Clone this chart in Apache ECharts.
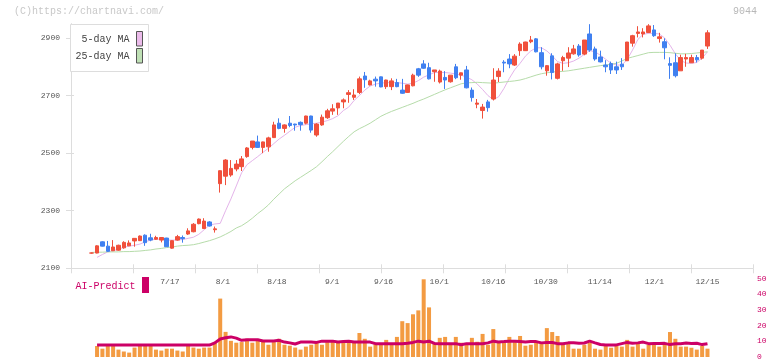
<!DOCTYPE html>
<html><head><meta charset="utf-8">
<script src="https://cdn.jsdelivr.net/npm/echarts@6/dist/echarts.min.js"></script>
<style>html,body{margin:0;padding:0;background:#fff}#c{width:772px;height:361px}</style>
</head><body><div id="c"></div>
<script>
// ---- data ----
const open = [2153,2153,2192,2177,2161,2163,2171,2178,2195,2196,2215,2206,2201,2198,2205,2170,2198,2207,2219,2227,
2255,2238,2261,2234,2394,2420,2424,2445,2453,2488,2520,2539,2520,2522,2554,2604,2586,2604,2601,2607,
2604,2629,2563,2598,2623,2646,2657,2678,2704,2694,2711,2768,2737,2757,2765,2731,2731,2745,2719,2711,
2734,2793,2810,2797,2783,2747,2763,2748,2800,2771,2789,2719,2670,2648,2678,2688,2766,2816,2827,2806,
2856,2856,2887,2897,2849,2786,2838,2760,2821,2830,2845,2872,2844,2914,2862,2834,2806,2811,2800,2809,
2821,2882,2916,2914,2919,2928,2898,2887,2811,2814,2786,2827,2814,2832,2830,2872];
const close = [2153,2178,2177,2159,2174,2180,2190,2188,2204,2212,2189,2198,2207,2207,2175,2196,2210,2203,2230,2253,
2271,2264,2247,2237,2439,2476,2447,2462,2480,2518,2542,2520,2539,2553,2598,2586,2598,2596,2598,2599,
2629,2580,2601,2625,2647,2654,2674,2685,2710,2702,2758,2755,2751,2751,2730,2754,2751,2731,2708,2737,
2771,2771,2795,2758,2789,2785,2754,2771,2762,2779,2727,2693,2674,2660,2658,2754,2785,2813,2810,2837,
2879,2886,2893,2852,2800,2804,2780,2810,2832,2848,2862,2841,2893,2858,2827,2817,2800,2789,2789,2800,
2886,2908,2921,2921,2942,2908,2904,2866,2805,2769,2832,2832,2832,2824,2858,2918];
const low = [2151,2152,2176,2157,2160,2161,2168,2177,2175,2195,2178,2194,2199,2190,2174,2168,2196,2189,2216,2225,
2253,2237,2245,2224,2363,2389,2418,2437,2438,2484,2513,2518,2500,2505,2553,2583,2571,2590,2578,2578,
2600,2571,2557,2595,2619,2633,2633,2656,2675,2685,2705,2727,2735,2731,2729,2723,2719,2729,2706,2709,
2732,2765,2793,2756,2748,2742,2723,2745,2757,2755,2725,2679,2656,2620,2644,2683,2747,2781,2795,2803,
2838,2855,2882,2850,2791,2769,2756,2756,2786,2799,2842,2835,2840,2852,2821,2815,2781,2775,2775,2789,
2820,2870,2902,2902,2917,2904,2884,2826,2758,2763,2786,2800,2813,2815,2825,2862];
const high = [2155,2180,2194,2195,2198,2182,2194,2197,2205,2214,2218,2220,2213,2208,2206,2197,2216,2214,2239,2257,
2273,2274,2264,2245,2440,2479,2476,2476,2490,2521,2542,2561,2540,2557,2609,2621,2600,2629,2602,2610,
2630,2630,2604,2634,2654,2670,2674,2690,2719,2722,2766,2782,2755,2766,2766,2755,2760,2758,2758,2738,
2776,2796,2823,2814,2789,2790,2785,2771,2810,2780,2803,2728,2688,2671,2685,2795,2795,2823,2844,2844,
2885,2887,2907,2900,2868,2806,2847,2814,2838,2868,2876,2879,2893,2948,2870,2856,2823,2818,2818,2830,
2886,2911,2941,2934,2948,2945,2918,2899,2833,2847,2842,2845,2842,2841,2858,2927];
const ma5 = [null,2138,2148,2157,2161,2166,2173,2177,2180,2184,2192,2198,2201,2201,2198,2198,2198,2200,2204,2208,
2218,2234,2250,2254,2256,2300,2341,2386,2432,2460,2474,2488,2503,2517,2533,2549,2562,2576,2590,2596,
2599,2602,2604,2608,2613,2620,2630,2648,2660,2683,2700,2719,2733,2740,2743,2745,2745,2745,2743,2740,
2743,2752,2764,2772,2780,2780,2780,2778,2775,2771,2764,2755,2740,2721,2700,2686,2696,2725,2760,2790,
2812,2837,2855,2866,2866,2855,2838,2818,2812,2814,2820,2830,2843,2856,2852,2840,2826,2812,2806,2806,
2825,2858,2895,2913,2916,2916,2914,2900,2875,2845,2822,2813,2812,2815,2830,2852];
const ma25 = [2155,2156,2156,2157,2157,2157,2158,2158,2159,2160,2162,2164,2167,2169,2172,2174,2177,2179,2180,2182,
2186,2191,2196,2202,2209,2218,2228,2240,2248,2260,2274,2290,2304,2320,2340,2358,2376,2390,2404,2416,
2428,2440,2453,2470,2488,2505,2523,2541,2558,2574,2585,2594,2604,2616,2628,2637,2645,2652,2659,2666,
2673,2681,2688,2696,2704,2712,2720,2727,2734,2741,2744,2745,2746,2745,2744,2743,2745,2747,2749,2751,
2754,2759,2765,2771,2776,2779,2782,2783,2784,2786,2789,2792,2795,2798,2801,2804,2806,2809,2812,2820,
2829,2834,2839,2844,2849,2850,2850,2850,2849,2847,2845,2845,2846,2848,2850,2852];
const volume = [null,7.0,5.3,7.0,7.0,4.7,3.5,2.8,6.0,7.0,7.8,7.0,4.7,4.1,5.3,5.3,4.1,3.5,7.0,6.0,
5.3,6.0,6.0,9.0,37.2,16.0,10.3,9.1,9.5,11.6,9.1,10.3,10.3,7.8,9.5,11.6,7.8,7.2,6.0,4.7,
6.6,7.8,8.9,7.8,9.5,10.3,9.5,9.5,10.3,9.1,15.3,11.6,6.6,8.2,8.2,10.9,8.2,12.8,22.8,21.6,
27.2,29.7,49.5,31.6,9.1,12.2,12.8,8.2,12.8,9.1,8.2,12.2,9.7,14.7,7.8,17.8,9.5,9.5,12.8,9.5,
13.4,7.2,7.8,10.3,9.5,18.4,15.9,13.4,7.8,9.1,5.3,5.3,7.8,9.1,5.3,4.7,7.2,5.9,7.0,6.6,
10.9,6.6,9.1,5.3,7.8,7.8,6.6,8.9,15.9,11.6,6.6,6.6,5.9,4.7,7.0,5.3];
const aiPredict = [null,7.6,7.6,7.6,7.6,7.6,7.6,7.6,7.6,7.6,7.6,7.6,7.6,7.6,7.6,7.6,7.6,7.6,7.6,7.6,
7.6,7.6,7.6,9.0,11.5,12.3,12.8,12.0,10.6,11.0,11.0,11.0,10.2,10.2,10.2,10.6,9.5,9.0,8.3,9.5,
9.5,9.5,9.3,10.1,10.1,10.1,9.5,9.8,10.1,9.6,9.6,9.6,9.5,8.5,8.5,8.5,8.5,8.5,8.5,8.7,
9.3,10.1,9.6,10.1,8.6,8.5,8.5,8.5,8.5,7.8,8.5,8.5,8.5,8.5,9.0,10.1,9.6,9.8,10.1,10.1,
9.8,9.5,9.8,9.8,9.0,9.3,9.2,8.5,8.5,9.0,9.0,8.8,8.9,10.1,9.0,8.0,7.7,7.7,7.7,8.5,
9.3,8.7,9.0,9.5,8.5,8.6,8.6,8.7,7.9,8.5,8.5,8.9,8.6,8.8,7.9,8.5];
const dateLabels = ['7/17','8/1','8/18','9/1','9/16','10/1','10/16','10/30','11/14','12/1','12/15'];
const dateLabelAt = [14.6,24.5,34.6,44.9,54.5,64.9,75,84.8,94.9,105.1,115];
const priceTicks = [2100,2300,2500,2700,2900];

// ---- chart ----
const FONT = "'Liberation Mono','DejaVu Sans Mono',monospace";
const RED = '#f0503c', BLUE = '#4080f0';
const X_MIN = -3.866, X_MAX = 123.5;
const seq = a => a.map((v, i) => [i, v]);
const candles = open.map((o, i) => [i, o, close[i], low[i], high[i]]);
const lblMap = {};
dateLabelAt.forEach((p, k) => { lblMap[p] = dateLabels[k]; });

const chart = echarts.init(document.getElementById('c'), null, {renderer: 'canvas'});
chart.setOption({
  animation: false,
  backgroundColor: '#fff',
  grid: [
    {left: 71, right: 19, top: 23.6, bottom: 92.7},
    {left: 71, right: 19, top: 278.5, bottom: 2.5}
  ],
  xAxis: [
    {gridIndex: 0, type: 'value', min: X_MIN, max: X_MAX, position: 'bottom',
     axisLine: {show: true, onZero: false, lineStyle: {color: '#dddddd'}}, axisTick: {show: false}, splitLine: {show: false},
     axisLabel: {customValues: dateLabelAt, formatter: v => lblMap[v] || '', margin: 10,
       fontSize: 8, color: '#555', fontFamily: FONT}},
    {gridIndex: 1, type: 'value', min: X_MIN, max: X_MAX, show: false},
    {gridIndex: 0, type: 'value', min: 0, max: 11, interval: 1, position: 'bottom',
     axisLine: {show: false, onZero: false}, axisLabel: {show: false}, splitLine: {show: false},
     axisTick: {show: true, inside: true, length: 4, lineStyle: {color: '#dddddd'}}},
    {gridIndex: 0, type: 'value', min: 0, max: 11, interval: 1, position: 'bottom',
     axisLine: {show: false, onZero: false}, axisLabel: {show: false}, splitLine: {show: false},
     axisTick: {show: true, inside: false, length: 5, lineStyle: {color: '#dddddd'}}}
  ],
  yAxis: [
    {gridIndex: 0, type: 'value', min: 2100, max: 2950, position: 'left',
     axisLine: {show: true, onZero: false, lineStyle: {color: '#dddddd'}},
     axisTick: {show: true, length: 5, customValues: priceTicks, lineStyle: {color: '#dddddd'}},
     axisLabel: {customValues: priceTicks, formatter: v => String(v), margin: 11, fontSize: 8, color: '#555', fontFamily: FONT},
     splitLine: {show: false}},
    {gridIndex: 0, type: 'value', min: 2100, max: 2950, position: 'left',
     axisLine: {show: false, onZero: false}, axisLabel: {show: false}, splitLine: {show: false},
     axisTick: {show: true, inside: true, length: 3, customValues: priceTicks, lineStyle: {color: '#dddddd'}}},
    {gridIndex: 1, type: 'value', min: 0, max: 50, interval: 10, position: 'right',
     axisLine: {show: false, onZero: false}, axisTick: {show: false}, splitLine: {show: false},
     axisLabel: {margin: 4, fontSize: 8, color: '#cc0066', fontFamily: FONT}}
  ],
  series: [
    {name: '5-day MA', type: 'line', xAxisIndex: 0, yAxisIndex: 0, data: seq(ma5), symbol: 'none',
     lineStyle: {width: 1, color: '#e4b4ea'}, z: 1, silent: true},
    {name: '25-day MA', type: 'line', xAxisIndex: 0, yAxisIndex: 0, data: seq(ma25), symbol: 'none',
     lineStyle: {width: 1, color: '#b6dcaa'}, z: 1, silent: true},
    {type: 'candlestick', xAxisIndex: 0, yAxisIndex: 0, data: candles, barWidth: 4, z: 3,
     itemStyle: {color: RED, color0: BLUE, borderColor: RED, borderColor0: BLUE, borderWidth: 1}},
    {type: 'bar', xAxisIndex: 1, yAxisIndex: 2, data: seq(volume), barWidth: 4,
     itemStyle: {color: '#f39b42'}, z: 1},
    {name: 'AI-Predict', type: 'line', xAxisIndex: 1, yAxisIndex: 2, data: seq(aiPredict), symbol: 'none',
     lineStyle: {width: 3, color: '#cc0066'}, z: 3}
  ],
  graphic: [
    {type: 'text', left: 14, top: 6, style: {text: '(C)https://chartnavi.com/', font: '10px ' + FONT, fill: '#c8c8c8'}},
    {type: 'text', right: 15, top: 6, style: {text: '9044', font: '10px ' + FONT, fill: '#b8b8b8'}},
    {type: 'rect', shape: {x: 70.5, y: 24.5, width: 78, height: 47}, style: {fill: '#fff', stroke: '#dddddd', lineWidth: 1}, z: 10},
    {type: 'text', x: 129.5, y: 39.5, style: {text: '5-day MA', font: '10px ' + FONT, fill: '#444', align: 'right', verticalAlign: 'middle'}, z: 11},
    {type: 'rect', shape: {x: 136.5, y: 31.5, width: 6, height: 14.5}, style: {fill: '#ebbbea', stroke: '#555', lineWidth: 1}, z: 11},
    {type: 'text', x: 129.5, y: 56.5, style: {text: '25-day MA', font: '10px ' + FONT, fill: '#444', align: 'right', verticalAlign: 'middle'}, z: 11},
    {type: 'rect', shape: {x: 136.5, y: 48.5, width: 6, height: 14.5}, style: {fill: '#bfe0b5', stroke: '#555', lineWidth: 1}, z: 11},
    {type: 'text', x: 75.5, y: 286, style: {text: 'AI-Predict', font: '10px ' + FONT, fill: '#cc0066', verticalAlign: 'middle'}, z: 11},
    {type: 'rect', shape: {x: 142, y: 277, width: 7, height: 16}, style: {fill: '#cc0066'}, z: 11}
  ]
});
</script>
</body></html>
